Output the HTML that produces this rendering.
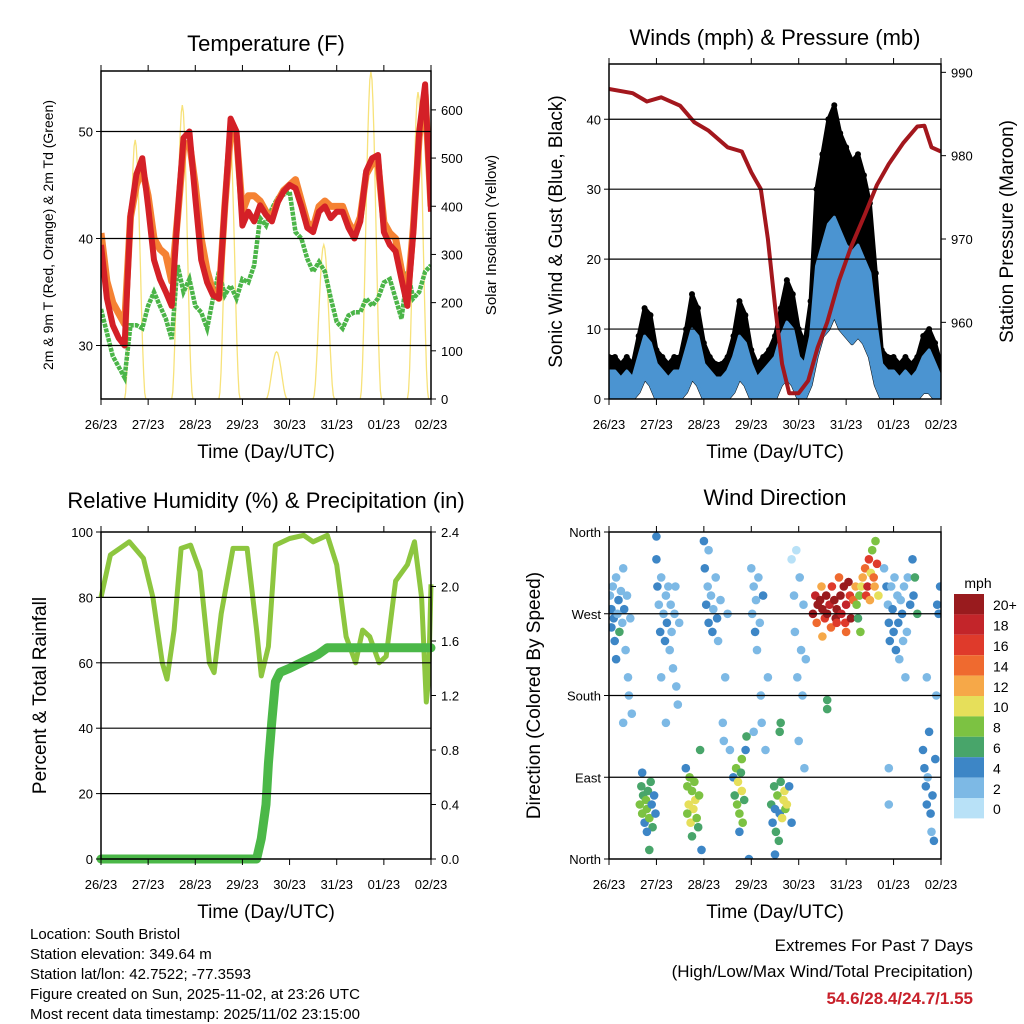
<!DOCTYPE html>
<html><head><meta charset="utf-8"><style>
body{margin:0;background:#fff;width:1024px;height:1024px;overflow:hidden}
svg{display:block;font-family:"Liberation Sans",sans-serif}
</style></head><body>
<svg id="s" width="1024" height="1024" viewBox="0 0 1024 1024">
<g id="texts" font-size="15" fill="#000">
<text x="30" y="939">Location: South Bristol</text>
<text x="30" y="959">Station elevation: 349.64 m</text>
<text x="30" y="979">Station lat/lon: 42.7522; -77.3593</text>
<text x="30" y="999">Figure created on Sun, 2025-11-02, at 23:26 UTC</text>
<text x="30" y="1019">Most recent data timestamp: 2025/11/02 23:15:00</text>
</g>
<g font-size="17" text-anchor="end">
<text x="973" y="951">Extremes For Past 7 Days</text>
<text x="973" y="977">(High/Low/Max Wind/Total Precipitation)</text>
<text x="973" y="1004" font-weight="bold" fill="#c8202a" font-size="17">54.6/28.4/24.7/1.55</text>
</g>
</svg>
<script>
const dayLabels=["26/23","27/23","28/23","29/23","30/23","31/23","01/23","02/23"];
const tStep=0.125;
const tempRed=[39.4,34.4,31.9,30.7,30,42.2,46,47.5,43,38,36.2,35,33.7,42.2,49.4,50,43.8,38,35.9,34.7,34.4,43,51.2,50,41.2,42.5,41.6,43.1,42.2,41.6,43.4,44.4,45,44.7,43,41,40.6,42.5,43,41.9,42.5,42.5,41,40,41.6,46.3,47.5,47.8,40.6,39.4,38.8,36.2,33.7,40.6,50,54.4,42.5];
const tempOrange=[40.5,36,34,33,32,42,45,46.5,44,40,39,38.5,36,42,48.5,49,45,40,37,35,34.4,43,50,49.5,42.5,44,44,43.5,42.5,42,43.5,44.5,45,45.5,43.5,41.5,41,43,43.5,43,43,43,41.5,40.5,42,46,47,47,41.5,40.5,40,37,34.5,41,49.5,53.5,43];
const tempDew=[33.4,31.2,29,28,27,31.9,31.9,31.6,33.7,35,33.7,32.5,30.6,37.5,35,36.2,33.7,33.1,31.6,34.4,36.9,34.7,35.6,34.4,36.2,35.9,37.5,41.9,41.2,42.8,43.8,44.1,44.4,40.6,40,38.1,36.9,37.8,36.9,34.4,32.2,31.6,32.8,33.1,33.1,34.4,33.7,34.4,35.9,36.2,34.4,32.5,36.9,34.4,35,36.9,37.5];
const solarPeak=[538,610,569,98,320,679,637];
const gustTop=[6,6,5,6,5,9,13,12,7,6,5,6,6,10,15,13,8,6,5,5,6,9,14,12,7,5,6,7,9,13,17,15,10,8,14,30,35,40,42,38,36,34,35,32,28,18,7,6,6,5,6,5,6,9,10,8,5];
const windTop=[4,4,3,4,3,6,9,8,5,4,3,4,4,7,10,9,5,4,3,3,4,6,9,8,5,3,4,5,6,9,11,10,6,5,9,19,22,25,26,24,22,21,22,20,18,11,5,4,4,3,4,3,4,6,7,5,3];
const windLow=[0,0,0,0,0,1,3,2,0,0,0,0,0,1,3,2,0,0,0,0,0,1,3,2,0,0,0,0,0,2,3,2,0,0,2,6,9,10,12,10,9,8,9,8,6,2,0,0,0,0,0,0,0,1,1,0,0];
const presT=[0,0.5,0.8,1.1,1.5,1.8,2.1,2.5,2.8,3.0,3.1,3.2,3.35,3.5,3.65,3.8,4.0,4.2,4.4,4.6,4.85,5.1,5.4,5.65,5.9,6.2,6.5,6.65,6.8,7.0];
const presV=[988,987.5,986.5,987,986,984,983,981,980.5,978,977,976,970,962,955,951.5,951.5,953,957,960,965,969,973,976.5,979,981.5,983.5,983.6,981,980.5];
const rhT=[0,0.2,0.6,0.9,1.1,1.3,1.4,1.55,1.7,1.9,2.1,2.3,2.4,2.55,2.8,3.1,3.3,3.4,3.55,3.7,4.0,4.3,4.5,4.8,5.0,5.2,5.4,5.55,5.7,5.9,6.05,6.25,6.5,6.65,6.8,6.9,6.95,7.0];
const rhV=[80,93,97,92,80,60,55,70,95,96,88,60,57,75,95,95,70,56,65,96,98,99,97,99,90,68,60,70,68,60,62,85,90,97,80,48,55,84];
const rainT=[0,3.3,3.4,3.5,3.55,3.62,3.7,3.8,4.0,4.3,4.6,4.8,7.0];
const rainV=[0,0,0.15,0.4,0.7,1.0,1.3,1.37,1.4,1.45,1.5,1.55,1.55];
const wdT=[0.02,0.05,0.05,0.08,0.1,0.12,0.15,0.18,0.2,0.22,0.25,0.28,0.3,0.32,0.35,0.38,0.4,0.42,0.45,0.48,0.15,0.3,
0.65,0.68,0.7,0.72,0.75,0.78,0.8,0.82,0.85,0.88,0.9,0.92,0.95,0.98,0.7,0.85,0.8,
1.0,1.02,1.05,1.08,1.1,1.15,1.18,1.2,1.22,1.25,1.28,1.3,1.32,1.35,1.38,1.4,1.42,1.45,1.48,1.0,1.1,1.2,
1.62,1.65,1.68,1.7,1.72,1.75,1.78,1.8,1.82,1.85,1.88,1.9,1.92,1.75,1.95,1.65,
2.0,2.02,2.05,2.08,2.1,2.15,2.18,2.2,2.25,2.28,2.3,2.35,2.4,2.42,2.45,2.5,2.55,2.1,
2.62,2.65,2.68,2.7,2.72,2.75,2.78,2.8,2.82,2.85,2.88,2.9,2.8,2.95,2.75,
3.0,3.02,3.05,3.08,3.1,3.12,3.15,3.18,3.2,3.22,3.25,3.3,3.35,3.05,
3.42,3.45,3.48,3.5,3.52,3.55,3.58,3.6,3.62,3.65,3.68,3.7,3.72,3.75,3.6,3.62,3.5,3.8,3.85,
3.85,3.9,3.92,3.95,3.97,4.0,4.02,4.05,4.08,4.1,4.12,4.15,
4.3,4.35,4.38,4.4,4.45,4.48,4.5,4.55,4.58,4.6,4.65,4.68,4.7,4.75,4.78,4.8,4.85,4.88,4.9,4.95,4.98,5.0,5.05,5.08,5.1,5.15,5.2,5.22,5.25,5.28,5.3,5.32,5.35,5.4,5.42,5.45,5.48,5.5,5.52,5.55,5.58,5.6,5.62,5.65,5.68,4.6,4.6,4.8,4.5,5.0,
5.8,5.85,5.88,5.9,5.92,5.95,5.98,6.0,6.02,6.05,6.08,6.1,6.12,6.15,6.18,6.2,6.22,6.25,6.28,6.3,6.35,6.4,6.42,6.45,6.5,
6.62,6.65,6.68,6.7,6.72,6.75,6.78,6.8,6.82,6.85,6.88,6.9,6.7,6.92,6.95,6.98,5.9,5.9];
const wdD=[290,275,255,300,265,240,310,270,285,250,295,260,320,275,230,290,200,180,265,160,220,150,
60,80,50,70,40,65,55,75,45,85,60,35,70,50,95,10,30,
330,300,280,250,310,270,240,290,260,300,230,280,250,210,270,300,190,170,260,355,200,150,
100,80,60,90,40,75,55,85,65,45,35,70,120,25,10,50,
350,320,280,300,260,290,250,275,310,265,240,285,150,130,200,270,120,340,
90,70,100,60,85,50,95,75,40,65,120,135,110,0,30,
320,270,300,250,285,230,310,260,180,150,290,120,200,140,
60,40,80,55,30,70,20,50,85,45,65,75,55,60,140,150,5,80,40,
330,290,250,340,200,130,310,230,180,280,100,220,
270,290,260,280,285,300,275,265,290,270,280,255,300,285,265,275,310,290,270,300,260,280,305,290,265,285,300,280,265,290,250,300,310,320,290,300,330,285,315,340,310,300,350,325,290,175,165,260,245,250,
320,300,280,260,240,300,275,250,310,230,290,260,220,285,270,240,300,200,250,310,280,330,290,310,270,
120,100,80,60,90,140,50,30,70,20,110,180,200,280,270,300,100,60];
const wdS=[2,4,4,2,4,4,2,2,4,6,2,2,2,4,2,2,2,2,2,2,4,2,
8,6,8,6,4,8,8,6,8,6,4,6,4,4,4,6,4,
4,4,2,4,2,2,4,2,4,2,2,2,2,2,2,2,2,2,2,4,2,2,
4,8,10,8,10,8,10,8,10,8,6,8,6,6,4,8,
4,4,4,2,4,2,4,2,2,4,2,2,2,2,2,2,2,2,
4,6,8,8,10,8,6,10,8,6,4,6,8,4,4,
2,2,2,4,2,2,2,2,2,2,4,2,2,2,
6,4,6,4,6,8,6,4,6,10,10,10,8,10,6,6,4,4,4,
0,2,2,0,2,2,2,2,2,2,2,2,
20,18,14,20,20,12,20,16,20,20,18,14,16,20,20,20,14,20,18,20,16,18,20,16,20,14,12,8,6,8,8,10,12,14,16,18,16,12,10,8,14,12,8,16,10,6,6,16,12,14,
2,4,2,4,4,2,4,4,2,4,2,4,2,2,4,2,2,2,2,2,4,4,4,6,6,
4,4,4,4,2,4,4,2,4,4,4,2,2,4,4,4,2,2];
const spdColors=["#b8e1f7","#7db9e5","#3d86c6","#48a56a","#7cc242","#e6df5a","#f6a848","#ef6a2f","#df3a2b","#c3252a","#991b1e"];
const spdLabels=["0","2","4","6","8","10","12","14","16","18","20+"];

const NS="http://www.w3.org/2000/svg";
const svg=document.getElementById('s');
function mk(tag,attrs,parent){const e=document.createElementNS(NS,tag);for(const k in attrs)e.setAttribute(k,attrs[k]);(parent||svg).appendChild(e);return e;}
function txt(s,attrs,parent){const e=mk('text',attrs,parent);e.textContent=s;return e;}

function panel(P){
  const g=mk('g',{});
  
  
  P.g=g;
  P.x=t=>P.x0+(P.x1-P.x0)*t/7;
  P.yL=v=>P.y1-(v-P.lmin)/(P.lmax-P.lmin)*(P.y1-P.y0);
  P.yR=v=>P.y1-(v-P.rmin)/(P.rmax-P.rmin)*(P.y1-P.y0);
  return P;
}
function frame(P){
  const g=P.g;
  P.grid.forEach(v=>{const l=mk('line',{x1:P.x0,x2:P.x1,y1:P.yL(v),y2:P.yL(v),stroke:'#000','stroke-width':1.2},g);
    });
  mk('rect',{x:P.x0,y:P.y0,width:P.x1-P.x0,height:P.y1-P.y0,fill:'none',stroke:'#000','stroke-width':1.5},g);
  dayLabels.forEach((d,i)=>{const x=P.x(i);
    mk('line',{x1:x,x2:x,y1:P.y1,y2:P.y1+6,stroke:'#000'},g);
    mk('line',{x1:x,x2:x,y1:P.y0,y2:P.y0-6,stroke:'#000'},g);
    const t=txt(d,{x:x,y:P.y1+30,'font-size':13,'text-anchor':'middle'},g);
    });
  P.lticks.forEach((v,i)=>{const y=P.yL(v);
    mk('line',{x1:P.x0-5,x2:P.x0,y1:y,y2:y,stroke:'#000'},g);
    const t=txt(P.llabels?P.llabels[i]:String(v),{x:P.x0-8,y:y+5,'font-size':13,'text-anchor':'end'},g);
    });
  if(P.rticks)P.rticks.forEach((v,i)=>{const y=P.yR(v);
    mk('line',{x1:P.x1,x2:P.x1+5,y1:y,y2:y,stroke:'#000'},g);
    const t=txt(P.rlabels?P.rlabels[i]:String(v),{x:P.x1+10,y:y+5,'font-size':13},g);
    });
  const ti=txt(P.title,{x:(P.x0+P.x1)/2,y:P.ty,'font-size':22,'text-anchor':'middle'},g);
  
  const xl=txt('Time (Day/UTC)',{x:(P.x0+P.x1)/2,y:P.y1+59,'font-size':19,'text-anchor':'middle'},g);
  
  const yl=txt(P.ltitle,{x:0,y:0,'font-size':P.lfs,'text-anchor':'middle',transform:`translate(${P.ltx},${(P.y0+P.y1)/2}) rotate(-90)`},g);
  
  if(P.rtitle){const yr=txt(P.rtitle,{x:0,y:0,'font-size':P.rfs,'text-anchor':'middle',transform:`translate(${P.rtx},${(P.y0+P.y1)/2}) rotate(-90)`},g);
    }
}
function clip(P,id){const c=mk('clipPath',{id:id});mk('rect',{x:P.x0,y:P.y0,width:P.x1-P.x0,height:P.y1-P.y0},c);return `url(#${id})`;}
function stepPath(P,arr,yf){return arr.map((v,i)=>(i?'L':'M')+P.x(i*tStep).toFixed(1)+','+yf(v).toFixed(1)).join('');}
function pairPath(P,ts,vs,yf){return ts.map((t,i)=>(i?'L':'M')+P.x(t).toFixed(1)+','+yf(vs[i]).toFixed(1)).join('');}

const P1=panel({name:'temperature-panel',x0:101,x1:431,y0:71,y1:399,lmin:25,lmax:55.65,rmin:0,rmax:680.7,
  grid:[30,40,50],lticks:[30,40,50],rticks:[0,100,200,300,400,500,600],title:'Temperature (F)',ty:51,
  ltitle:'2m & 9m T (Red, Orange) & 2m Td (Green)',lfs:14,ltx:53,rtitle:'Solar Insolation (Yellow)',rfs:15,rtx:496});
{const cp=clip(P1,'c1');const g=mk('g',{'clip-path':cp},P1.g);
 solarPeak.forEach((pk,d)=>{let s='';for(let k=0;k<=20;k++){const f=k/20;const t=d+0.5+0.45*f;const v=pk*Math.pow(Math.sin(Math.PI*f),2);s+=(k?'L':'M')+P1.x(t).toFixed(1)+','+P1.yR(v).toFixed(1);}
   const p=mk('path',{d:s,fill:'none',stroke:'#f7e27a','stroke-width':1.3},g);
   });
 let p=mk('path',{d:stepPath(P1,tempDew,P1.yL),fill:'none',stroke:'#4bb548','stroke-width':4.5,'stroke-dasharray':'4 1'},g);
 
 p=mk('path',{d:stepPath(P1,tempOrange,P1.yL),fill:'none',stroke:'#f58233','stroke-width':7,'stroke-linejoin':'round'},g);
 
 p=mk('path',{d:stepPath(P1,tempRed,P1.yL),fill:'none',stroke:'#d42027','stroke-width':6,'stroke-linejoin':'round'},g);
 
}
frame(P1);

const P2=panel({name:'winds-pressure-panel',x0:609,x1:941,y0:64,y1:399,lmin:0,lmax:47.9,rmin:950.8,rmax:991,
  grid:[10,20,30,40],lticks:[0,10,20,30,40],rticks:[960,970,980,990],title:'Winds (mph) & Pressure (mb)',ty:45,
  ltitle:'Sonic Wind & Gust (Blue, Black)',lfs:19,ltx:562,rtitle:'Station Pressure (Maroon)',rfs:19,rtx:1013});
{const cp=clip(P2,'c2');const g=mk('g',{'clip-path':cp},P2.g);
 const band=(top,low)=>{let s=top.map((v,i)=>(i?'L':'M')+P2.x(i*tStep).toFixed(1)+','+P2.yL(v).toFixed(1)).join('');
   for(let i=low.length-1;i>=0;i--)s+='L'+P2.x(i*tStep).toFixed(1)+','+P2.yL(low[i]).toFixed(1);return s+'Z';};
 let p=mk('path',{d:band(gustTop,windLow),fill:'#000',stroke:'#000','stroke-width':4,'stroke-linejoin':'round'},g);
 
 gustTop.forEach((v,i)=>{const c=mk('circle',{cx:P2.x(i*tStep),cy:P2.yL(v),r:3,fill:'#000'},g);
   });
 p=mk('path',{d:band(windTop,windLow),fill:'#4b94d1',stroke:'#4b94d1','stroke-width':3,'stroke-linejoin':'round'},g);
 
 p=mk('path',{d:pairPath(P2,presT,presV,P2.yR),fill:'none',stroke:'#a3171d','stroke-width':4,'stroke-linejoin':'round'},g);
 
}
frame(P2);

const P3=panel({name:'humidity-precip-panel',x0:101,x1:431,y0:532,y1:859,lmin:0,lmax:100,rmin:0,rmax:2.4,
  grid:[20,40,60,80],lticks:[0,20,40,60,80,100],rticks:[0,0.4,0.8,1.2,1.6,2.0,2.4],rlabels:['0.0','0.4','0.8','1.2','1.6','2.0','2.4'],
  title:'Relative Humidity (%) & Precipitation (in)',ty:508,ltitle:'Percent & Total Rainfall',lfs:19,ltx:46});
{const g=mk('g',{},P3.g);
 let p=mk('path',{d:pairPath(P3,rhT,rhV,P3.yL),fill:'none',stroke:'#8dc63f','stroke-width':5,'stroke-linejoin':'round'},g);
 
 p=mk('path',{d:pairPath(P3,rainT,rainV,P3.yR),fill:'none',stroke:'#4bb848','stroke-width':9,'stroke-linejoin':'round','stroke-linecap':'round'},g);
 
}
frame(P3);

const P4=panel({name:'wind-direction-panel',x0:609,x1:941,y0:532,y1:859,lmin:0,lmax:360,
  grid:[90,180,270],lticks:[0,90,180,270,360],llabels:['North','East','South','West','North'],title:'Wind Direction',ty:505,
  ltitle:'Direction (Colored By Speed)',lfs:19,ltx:540});
{const cp=clip(P4,'c4');const g=mk('g',{'clip-path':cp},P4.g);
 wdT.forEach((t,i)=>{const s=wdS[i];const bi=Math.min(10,Math.floor(s/2));
   const c=mk('circle',{cx:P4.x(t).toFixed(1),cy:P4.yL(wdD[i]).toFixed(1),r:4.3,fill:spdColors[bi]},g);
   });
}
frame(P4);
{const g=mk('g',{});
 const t=txt('mph',{x:978,y:588,'font-size':14,'text-anchor':'middle'},g);
 
 const h=20.4;
 for(let i=0;i<11;i++){const idx=10-i;const y=594+i*h;
   const r=mk('rect',{x:954,y:y,width:30,height:h,fill:spdColors[idx]},g);
   
   const l=txt(spdLabels[idx],{x:993,y:y+h/2+6,'font-size':14},g);
   }
}
</script>
</body></html>
